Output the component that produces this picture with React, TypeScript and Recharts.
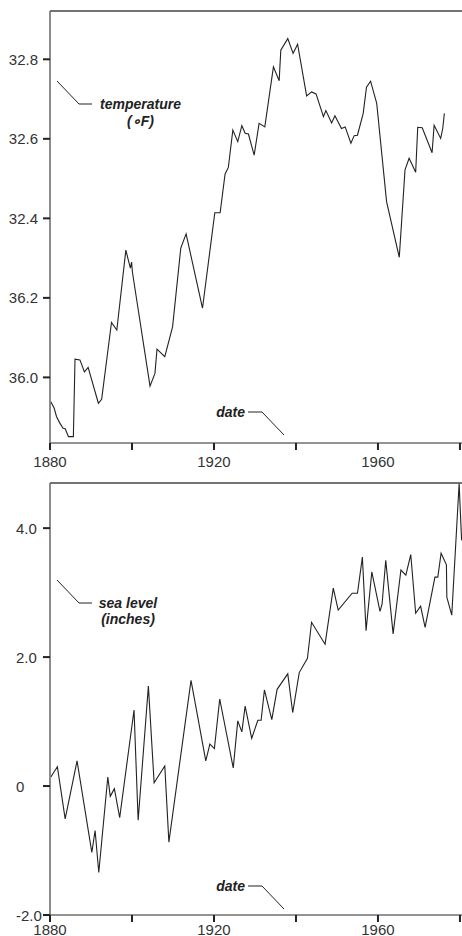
import React from 'react';
import { Line, LineChart, ReferenceLine, XAxis, YAxis } from 'recharts';

// temperature panel
const tempYears = [
  1880.2, 1881.0, 1881.6, 1882.4, 1883.2, 1883.7, 1884.5, 1885.7, 1886.1, 1887.3, 1888.4, 1889.3, 1891.8,
  1892.6, 1895.0, 1896.3, 1898.5, 1899.6, 1899.9, 1900.1, 1904.4, 1905.6, 1906.1, 1908.0, 1909.9, 1911.9,
  1913.2, 1917.2, 1920.2, 1921.5, 1922.7, 1923.5, 1924.6, 1925.8, 1926.8, 1927.6, 1928.4, 1929.8, 1931.0,
  1932.4, 1934.5, 1935.9, 1936.3, 1938.0, 1939.3, 1940.4, 1942.6, 1943.8, 1944.9, 1946.7, 1947.3, 1948.7,
  1949.5, 1951.1, 1952.0, 1953.4, 1954.2, 1955.0, 1956.4, 1957.2, 1958.2, 1959.7, 1962.1, 1965.2, 1966.6,
  1967.6, 1969.2, 1969.7, 1970.8, 1973.2, 1973.7, 1975.3, 1975.8, 1976.2
];
const tempValues = [
  31.939, 31.923, 31.901, 31.885, 31.872, 31.871, 31.851, 31.851, 32.046, 32.044, 32.014, 32.025, 31.935,
  31.945, 32.138, 32.119, 32.32, 32.275, 32.29, 32.265, 31.978, 32.01, 32.071, 32.052, 32.127, 32.325,
  32.361, 32.174, 32.414, 32.414, 32.511, 32.528, 32.622, 32.593, 32.633, 32.614, 32.612, 32.559, 32.639,
  32.63, 32.781, 32.746, 32.823, 32.852, 32.815, 32.838, 32.708, 32.718, 32.713, 32.656, 32.671, 32.64,
  32.658, 32.626, 32.63, 32.589, 32.608, 32.609, 32.664, 32.73, 32.745, 32.689, 32.442, 32.302, 32.522,
  32.551, 32.516, 32.629, 32.628, 32.565, 32.634, 32.601, 32.626, 32.664
];
const tempTicks = [32.0, 32.2, 32.4, 32.6, 32.8];
const tempTickLabels = ['36.0', '36.2', '32.4', '32.6', '32.8'];

// sea level panel
const seaYears = [
  1880.2, 1881.8, 1883.7, 1886.6, 1890.2, 1891.0, 1891.9, 1894.1, 1894.7, 1895.7, 1897.0, 1900.5, 1901.5,
  1904.0, 1905.4, 1908.0, 1909.0, 1914.4, 1918.0, 1919.0, 1920.1, 1921.4, 1924.7, 1925.8, 1926.8, 1927.6,
  1929.2, 1930.7, 1931.5, 1932.3, 1934.1, 1935.4, 1938.0, 1939.2, 1940.8, 1942.8, 1943.8, 1947.1, 1949.1,
  1950.3, 1953.7, 1955.0, 1956.2, 1957.1, 1958.5, 1960.5, 1961.0, 1961.9, 1963.7, 1965.6, 1966.8, 1968.0,
  1969.2, 1970.4, 1971.5, 1973.9, 1974.6, 1975.4, 1976.7, 1976.8, 1978.0, 1979.8, 1980.4
];
const seaValues = [
  0.14, 0.3, -0.51, 0.39, -1.03, -0.69, -1.34, 0.14, -0.16, -0.04, -0.49, 1.18, -0.53, 1.55, 0.05, 0.31,
  -0.87, 1.64, 0.39, 0.65, 0.58, 1.35, 0.28, 1.01, 0.84, 1.24, 0.74, 1.02, 1.02, 1.49, 1.03, 1.5, 1.74, 1.14,
  1.76, 1.98, 2.54, 2.2, 3.07, 2.73, 2.99, 2.99, 3.55, 2.41, 3.32, 2.71, 2.82, 3.5, 2.36, 3.35, 3.27, 3.59,
  2.68, 2.79, 2.46, 3.24, 3.24, 3.61, 3.43, 2.93, 2.65, 4.69, 3.81
];
const seaTicks = [-2, 0, 2, 4];
const seaTickLabels = ['-2.0', '0', '2.0', '4.0'];

const yearTicks = [1880, 1900, 1920, 1940, 1960, 1980];
const yearLabels = ['1880', '', '1920', '', '1960', ''];

const FONT = '"Liberation Sans", Arial, Helvetica, sans-serif';
const INK = '#222';
const AXIS = '#707070';

const tempData = tempYears.map((year, i) => ({ year, value: tempValues[i] }));
const seaData = seaYears.map((year, i) => ({ year, value: seaValues[i] }));

function xTick(dy: number) {
  return (props: any) => {
    const { x, y, payload } = props;
    const label = yearLabels[yearTicks.indexOf(payload.value)] || '';
    return (
      <text x={x} y={y + dy} textAnchor="middle" dominantBaseline="central" fontSize={15} fontFamily={FONT} fill="#333">
        {label}
      </text>
    );
  };
}

function yTick(ticks: number[], labels: string[], leftAligned: boolean) {
  return (props: any) => {
    const { x, y, payload } = props;
    const idx = ticks.findIndex((t) => Math.abs(t - payload.value) < 1e-6);
    const label = idx >= 0 ? labels[idx] : '';
    return (
      <text
        x={leftAligned ? x - 25 : x - 3}
        y={y}
        textAnchor={leftAligned ? 'start' : 'end'}
        dominantBaseline="central"
        fontSize={15}
        fontFamily={FONT}
        fill="#333"
      >
        {label}
      </text>
    );
  };
}

const labelStyle = { fontFamily: FONT, fontSize: 14, fontWeight: 700, fontStyle: 'italic' as const, fill: INK };

export default function App() {
  const tempDomain = [31.835, 32.9215];
  const seaDomain = [-2, 4.7];
  return (
    <div style={{ position: 'absolute', left: 0, top: 0, width: 462, height: 936, overflow: 'hidden', background: '#fff' }}>
      <div style={{ position: 'absolute', left: 0, top: 0 }}>
        <LineChart width={462} height={472} data={tempData} margin={{ top: 11, right: 0, bottom: 0, left: 0 }}>
          <XAxis
            dataKey="year"
            type="number"
            domain={[1880, 1980.5]}
            ticks={yearTicks}
            interval={0}
            height={29}
            allowDataOverflow
            axisLine={{ stroke: AXIS, strokeWidth: 1.6 }}
            tickLine={{ stroke: INK, strokeWidth: 2 }}
            tickSize={7}
            tick={xTick(9)}
          />
          <YAxis
            type="number"
            domain={tempDomain}
            ticks={tempTicks}
            interval={0}
            width={50}
            allowDataOverflow
            axisLine={{ stroke: AXIS, strokeWidth: 1.6 }}
            tickLine={{ stroke: INK, strokeWidth: 2 }}
            tickSize={7}
            tick={yTick(tempTicks, tempTickLabels, false)}
          />
          <ReferenceLine y={tempDomain[1]} stroke="#444" strokeWidth={1.5} ifOverflow="visible" />
          <Line type="linear" dataKey="value" stroke={INK} strokeWidth={1.1} dot={false} isAnimationActive={false} />
        </LineChart>
      </div>
      <div style={{ position: 'absolute', left: 0, top: 472 }}>
        <LineChart width={462} height={464} data={seaData} margin={{ top: 11, right: 0, bottom: 0, left: 0 }}>
          <XAxis
            dataKey="year"
            type="number"
            domain={[1880, 1980.5]}
            ticks={yearTicks}
            interval={0}
            height={21}
            allowDataOverflow
            axisLine={{ stroke: AXIS, strokeWidth: 1.6 }}
            tickLine={{ stroke: INK, strokeWidth: 2 }}
            tickSize={7}
            tick={xTick(5)}
          />
          <YAxis
            type="number"
            domain={seaDomain}
            ticks={seaTicks}
            interval={0}
            width={50}
            allowDataOverflow
            axisLine={{ stroke: AXIS, strokeWidth: 1.6 }}
            tickLine={{ stroke: INK, strokeWidth: 2 }}
            tickSize={7}
            tick={yTick(seaTicks, seaTickLabels, true)}
          />
          <ReferenceLine y={seaDomain[1]} stroke="#444" strokeWidth={1.5} ifOverflow="visible" />
          <Line type="linear" dataKey="value" stroke={INK} strokeWidth={1.1} dot={false} isAnimationActive={false} />
        </LineChart>
      </div>
      {/* callout labels */}
      <svg width={462} height={936} style={{ position: 'absolute', left: 0, top: 0, pointerEvents: 'none' }}>
        <polyline points="57,81 79,104 92,104" fill="none" stroke={INK} strokeWidth={1} />
        <text x={140.5} y={104} textAnchor="middle" dominantBaseline="central" {...labelStyle}>temperature</text>
        <text x={140.5} y={121} textAnchor="middle" dominantBaseline="central" {...labelStyle}>(∘F)</text>
        <text x={245} y={412} textAnchor="end" dominantBaseline="central" {...labelStyle}>date</text>
        <polyline points="248,412 262,412 284,435" fill="none" stroke={INK} strokeWidth={1} />

        <polyline points="57,580 79,603 92,603" fill="none" stroke={INK} strokeWidth={1} />
        <text x={128} y={603} textAnchor="middle" dominantBaseline="central" {...labelStyle}>sea level</text>
        <text x={128} y={619} textAnchor="middle" dominantBaseline="central" {...labelStyle}>(inches)</text>
        <text x={245} y={886} textAnchor="end" dominantBaseline="central" {...labelStyle}>date</text>
        <polyline points="248,886 262,886 284,909" fill="none" stroke={INK} strokeWidth={1} />
      </svg>
    </div>
  );
}
